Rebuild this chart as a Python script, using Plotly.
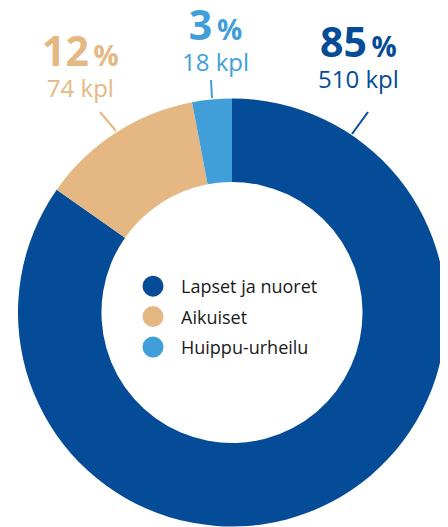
import plotly.graph_objects as go

# data
groups = ["Lapset ja nuoret", "Aikuiset", "Huippu-urheilu"]
counts = [510, 74, 18]
colors = ["#044C97", "#E5B883", "#409ED8"]

# page has an 8px body margin, so the figure is drawn 8px in from the corner
OFF = 8
W, H = 448 - OFF, 527 - OFF
FONT = "Open Sans"

total = sum(counts)
shares = [round(c / total * 100) for c in counts]


def px(x, y):
    # screen pixel -> paper coords
    return (x - OFF) / W, 1 - (y - OFF) / H


fig = go.Figure()

fig.add_trace(
    go.Pie(
        labels=groups,
        values=counts,
        hole=0.61,
        sort=False,
        direction="clockwise",
        rotation=0,
        marker=dict(colors=colors, line=dict(width=0)),
        textinfo="none",
        hoverinfo="label+value+percent",
        showlegend=False,
        domain=dict(x=[px(18, 0)[0], px(446, 0)[0]], y=[px(0, 526.5)[1], px(0, 98.5)[1]]),
    )
)

# legend entries (circles)
for name, col in zip(groups, colors):
    fig.add_trace(
        go.Scatter(
            x=[None],
            y=[None],
            mode="markers",
            name=name,
            legendgroup=name,
            marker=dict(size=16, color=col, line=dict(width=5, color=col)),
        )
    )

# label anchors: (center x, bottom y of the two-line block)
label_pos = [(358, 97), (80, 106), (215, 80)]
leader = [((352, 134), (368, 112)), ((116, 131), (100, 112)), ((212, 98), (211, 80))]

annotations = []
shapes = []
for share, cnt, col, (cx, by), (p0, p1) in zip(shares, counts, colors, label_pos, leader):
    ax, ay = px(cx, by)
    annotations.append(
        dict(
            x=ax, y=ay, xref="paper", yref="paper",
            xanchor="center", yanchor="bottom", align="center",
            showarrow=False,
            text=(
                f"<span style='font-size:41px'><b>{share}</b></span>"
                f"<span style='font-size:28px'><b>\u2009%</b></span>"
                f"<br>{cnt} kpl"
            ),
            font=dict(family=FONT, size=24, color=col),
        )
    )
    sx0, sy0 = px(*p0)
    sx1, sy1 = px(*p1)
    shapes.append(
        dict(type="line", xref="paper", yref="paper",
             x0=sx0, y0=sy0, x1=sx1, y1=sy1,
             line=dict(color=col, width=2))
    )

lx, ly = px(125, 317)

fig.update_layout(
    width=W,
    height=H,
    margin=dict(l=0, r=0, t=0, b=0),
    paper_bgcolor="white",
    plot_bgcolor="white",
    xaxis=dict(visible=False),
    yaxis=dict(visible=False),
    showlegend=True,
    legend=dict(
        x=lx, y=ly, xanchor="left", yanchor="middle",
        bgcolor="rgba(0,0,0,0)",
        font=dict(family=FONT, size=18, color="#1A1A1A"),
        itemwidth=46,
        tracegroupgap=4,
        itemclick=False,
        itemdoubleclick=False,
    ),
    annotations=annotations,
    shapes=shapes,
)

fig.write_html("out.html")
